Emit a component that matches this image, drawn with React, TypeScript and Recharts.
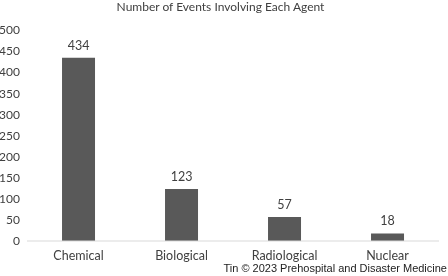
import React from 'react';
import { BarChart, Bar, XAxis, YAxis, LabelList } from 'recharts';

const categories = ['Chemical', 'Biological', 'Radiological', 'Nuclear'];
const counts = [434, 123, 57, 18];
const yTicks = [0, 50, 100, 150, 200, 250, 300, 350, 400, 450, 500];

const data = categories.map((name, i) => ({ name, value: counts[i] }));

const font = 'Lato, "Open Sans", sans-serif';

export default function App() {
  return (
    <div style={{ position: 'fixed', left: 0, top: 0, width: 448, height: 276, background: '#fff', fontFamily: font }}>
      <div style={{ position: 'absolute', top: -1, left: 0, width: 441, textAlign: 'center', fontSize: 12, color: '#404040' }}>
        Number of Events Involving Each Agent
      </div>
      <BarChart width={448} height={276} data={data} margin={{ top: 30, right: 9, bottom: 15, left: 0 }} barCategoryGap="34%">
        <XAxis dataKey="name" tickLine={false} axisLine={{ stroke: '#d9d9d9' }} tickMargin={4} tick={{ fill: '#404040', fontSize: 12.5, fontFamily: font }} interval={0} height={20} />
        <YAxis domain={[0, 500]} ticks={yTicks} tickLine={false} axisLine={false} width={27} tickMargin={1} tick={{ fill: '#404040', fontSize: 12, fontFamily: font }} interval={0} />
        <Bar dataKey="value" fill="#595959" isAnimationActive={false}>
          <LabelList dataKey="value" position="top" offset={8} style={{ fill: '#404040', fontSize: 12.5, fontFamily: font }} />
        </Bar>
      </BarChart>
      <div style={{ position: 'absolute', right: 1, top: 262, fontSize: 11, fontFamily: '"Liberation Sans", Arial, sans-serif', color: '#222', whiteSpace: 'nowrap' }}>
        Tin © 2023 Prehospital and Disaster Medicine
      </div>
    </div>
  );
}
